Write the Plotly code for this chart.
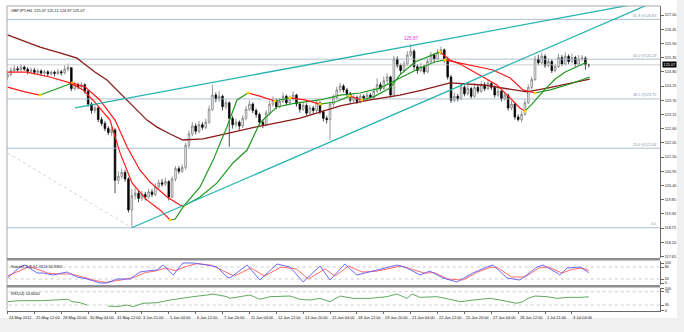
import plotly.graph_objects as go

# ---------------- data ----------------
symbol_text = "GBPJPY,H4  125.07 125.11 124.97 125.07"
first_open = 124.60
closes = [124.70, 124.85, 124.92, 124.88, 124.98, 124.90, 124.82, 124.86, 124.78, 124.83,
          124.75, 124.80, 124.72, 124.78, 124.74, 124.80, 124.76, 124.90, 124.96, 124.15,
          124.30, 124.22, 124.30, 124.05, 123.55, 123.30, 123.40, 122.95, 122.80, 122.60,
          122.45, 122.55, 120.60, 120.75, 120.90, 120.65, 119.45, 120.00, 120.10, 119.90,
          120.05, 119.95, 120.15, 120.05, 120.35, 120.50, 120.45, 120.55, 119.95, 120.65,
          121.05, 120.95, 121.10, 121.95, 122.40, 122.70, 122.50, 122.75, 122.65, 122.85,
          123.35, 123.90, 123.75, 123.85, 123.45, 123.60, 123.00, 122.75, 122.85, 122.70,
          123.00, 123.35, 123.55, 123.30, 123.15, 122.85, 122.75, 123.20, 123.55, 123.70,
          123.45, 123.65, 123.85, 123.60, 123.75, 123.90, 123.55, 123.35, 123.50, 123.20,
          123.40, 123.30, 123.60, 123.25, 123.00, 122.95, 123.55, 123.80, 124.10, 124.25,
          124.10, 123.95, 123.70, 123.80, 123.65, 123.85, 123.75, 123.90, 123.80, 124.05,
          124.30, 124.15, 124.45, 124.60, 123.90, 125.30, 125.05, 124.85, 125.10, 125.45,
          125.60, 125.00, 124.85, 125.00, 124.80, 125.20, 125.45, 125.30, 125.55, 125.65,
          125.30, 124.60, 123.70, 123.85, 123.75, 124.20, 123.95, 124.15, 123.85, 124.20,
          124.05, 124.30, 124.15, 124.35, 124.20, 123.90, 124.05, 123.75, 123.90, 123.40,
          123.55, 123.05, 122.95, 123.15, 123.60, 124.20, 124.50, 125.30, 125.15, 125.40,
          125.05, 125.20, 124.85, 125.00, 125.35, 125.10, 125.40, 125.20, 125.35, 125.10,
          125.30, 125.33, 125.07, 125.07]
highs = [124.85, 124.98, 125.05, 125.02, 125.10, 125.05, 124.98, 124.97, 124.95, 124.92,
         124.90, 124.88, 124.86, 124.86, 124.85, 124.92, 124.88, 125.05, 125.12, 124.98,
         124.42, 124.38, 124.40, 124.35, 124.10, 123.62, 123.52, 123.45, 123.05, 122.90,
         122.70, 122.68, 122.62, 120.95, 121.05, 121.00, 120.72, 120.25, 120.35, 120.20,
         120.18, 120.15, 120.28, 120.25, 120.48, 120.62, 120.65, 120.70, 120.60, 120.75,
         121.15, 121.15, 121.22, 122.05, 122.52, 122.85, 122.80, 122.90, 122.85, 122.98,
         123.50, 124.30, 124.00, 124.05, 123.92, 123.72, 123.65, 123.10, 122.98, 122.92,
         123.12, 123.48, 123.70, 123.62, 123.38, 123.22, 122.95, 123.32, 123.68, 123.85,
         123.78, 123.80, 124.00, 123.92, 123.88, 124.05, 123.95, 123.62, 123.62, 123.58,
         123.52, 123.48, 123.72, 123.65, 123.32, 123.10, 123.65, 123.92, 124.22, 124.38,
         124.32, 124.18, 124.02, 123.92, 123.88, 123.95, 123.92, 124.02, 123.98, 124.18,
         124.55, 124.40, 124.62, 124.75, 124.65, 125.42, 125.40, 125.12, 125.22, 125.60,
         125.87, 125.68, 125.10, 125.15, 125.08, 125.32, 125.58, 125.52, 125.68, 125.78,
         125.70, 125.38, 124.68, 124.00, 123.95, 124.35, 124.28, 124.30, 124.22, 124.35,
         124.30, 124.45, 124.40, 124.50, 124.42, 124.28, 124.18, 124.10, 124.02, 123.95,
         123.68, 123.60, 123.15, 123.28, 123.72, 124.32, 124.62, 125.42, 125.45, 125.55,
         125.48, 125.32, 125.28, 125.12, 125.50, 125.45, 125.55, 125.48, 125.50, 125.42,
         125.45, 125.45, 125.40, 125.11]
lows = [124.50, 124.62, 124.78, 124.80, 124.82, 124.84, 124.70, 124.74, 124.70, 124.68,
        124.66, 124.62, 124.60, 124.65, 124.62, 124.68, 124.66, 124.70, 124.82, 124.05,
        124.08, 124.12, 124.15, 123.95, 123.45, 123.18, 123.20, 122.85, 122.70, 122.50,
        122.35, 122.30, 120.10, 120.45, 120.65, 120.55, 119.35, 118.76, 119.85, 119.75,
        119.80, 119.82, 119.88, 119.95, 119.98, 120.25, 120.35, 120.38, 119.82, 119.90,
        120.55, 120.85, 120.88, 121.00, 121.85, 122.30, 122.38, 122.42, 122.55, 122.58,
        122.78, 123.28, 123.62, 123.65, 123.30, 123.35, 121.90, 122.60, 122.65, 122.55,
        122.62, 122.92, 123.28, 123.20, 123.02, 122.72, 122.62, 122.68, 123.12, 123.45,
        123.35, 123.38, 123.58, 123.50, 123.52, 123.68, 123.45, 123.22, 123.28, 123.10,
        123.12, 123.18, 123.22, 123.15, 122.88, 122.80, 122.15, 123.45, 123.72, 124.00,
        124.00, 123.85, 123.60, 123.62, 123.55, 123.58, 123.65, 123.68, 123.70, 123.72,
        123.98, 124.05, 124.10, 124.35, 123.80, 123.82, 124.95, 124.72, 124.78, 125.02,
        125.38, 124.88, 124.72, 124.78, 124.70, 124.75, 125.12, 125.18, 125.25, 125.45,
        125.15, 124.50, 123.60, 123.62, 123.65, 123.70, 123.85, 123.88, 123.75, 123.80,
        123.95, 123.98, 124.05, 124.08, 124.10, 123.80, 123.82, 123.65, 123.68, 123.30,
        123.32, 122.95, 122.88, 122.85, 123.10, 123.55, 124.12, 124.45, 125.05, 125.08,
        124.95, 124.98, 124.75, 124.78, 124.95, 125.02, 125.05, 125.10, 125.12, 125.00,
        125.05, 125.20, 124.88, 124.97]

# moving averages (bar index, price)
ma_fast_i = [0, 5.8, 12.6, 18.6, 22.5, 25.4, 30.5, 33.5, 37.1, 41.5, 45.4, 48.4, 49.9, 52.2,
             57.3, 61.2, 65.3, 68.3, 71.6, 75.1, 79.6, 84.1, 88.5, 93.0, 97.5, 101.9, 105.5,
             109.4, 113.8, 116.8, 121.3, 125.1, 128.7, 131.7, 134.7, 140.6, 145.7, 148.7,
             152.5, 154.0, 156.1, 160.0, 163.0, 166.0, 172.5]
ma_fast_p = [124.79, 124.79, 124.60, 124.37, 124.10, 123.71, 122.93, 121.66, 120.49, 119.83,
             119.45, 119.06, 119.10, 119.56, 120.34, 121.38, 122.66, 123.71, 123.98, 123.86,
             123.67, 123.79, 123.71, 123.55, 123.63, 123.86, 123.71, 123.86, 124.17, 124.68,
             125.18, 125.37, 125.57, 125.26, 125.10, 124.68, 124.29, 123.90, 123.40, 123.28,
             123.55, 124.13, 124.52, 124.79, 125.18]
ma_mid_i = [0, 5.2, 9.7, 14.1, 17.7, 19.2, 23.1, 27.5, 32.0, 35.6, 39.4, 42.4, 47.5, 51.3,
            52.5, 57.3, 62.3, 67.1, 71.3, 75.1, 80.2, 85.6, 93.0, 99.0, 104.9, 110.9, 116.8,
            122.8, 127.2, 130.2, 134.7, 140.6, 144.5, 149.6, 153.4, 157.0, 161.5, 167.4, 173.3]
ma_mid_p = [124.21, 124.02, 123.90, 124.10, 124.29, 124.37, 124.21, 123.71, 122.93, 121.89,
            121.00, 120.53, 119.95, 119.64, 119.60, 119.95, 120.49, 121.27, 121.77, 122.82,
            123.44, 123.59, 123.71, 123.90, 123.98, 124.17, 124.56, 124.95, 125.18, 125.26,
            125.14, 124.99, 124.87, 124.56, 124.10, 123.98, 124.10, 124.33, 124.60]
ma_slow_i = [0, 9.7, 15.6, 20.7, 22.5, 26.0, 29.6, 35.6, 41.5, 44.5, 48.4, 52.2, 58.2, 63.2,
             67.1, 73.7, 80.2, 87.1, 93.0, 99.0, 107.9, 116.8, 123.7, 131.7, 141.5, 151.6,
             154.6, 160.6, 167.4, 173.3]
ma_slow_p = [126.23, 125.76, 125.53, 125.33, 125.14, 124.79, 124.48, 123.71, 122.93, 122.66,
             122.39, 122.16, 122.20, 122.35, 122.47, 122.66, 122.82, 123.01, 123.24, 123.48,
             123.71, 123.90, 124.10, 124.37, 124.29, 124.10, 124.02, 124.17, 124.37, 124.52]

# trend lines (bar index, price)
trend_upper_i = [20.1, 200]
trend_upper_p = [123.40, 127.74]
trend_lower_i = [37, 200]
trend_lower_p = [118.76, 127.93]
fib_diag_i = [0, 37]
fib_diag_p = [121.66, 118.76]

# fibonacci levels
fib_names = ["0.0", "23.6 @121.84", "38.2 @123.75", "50.0 @125.29", "61.8 @126.83"]
fib_prices = [118.76, 121.84, 123.75, 125.29, 126.83]
bid_price = 125.07
swing_high_i = 120
swing_high_p = 125.87

# stochastic (bar index, value)
stoch_k_i = [0, 3.7, 5.2, 8.8, 10.6, 13.5, 17.7, 20.7, 23.7, 27.5, 29.6, 32.6, 36.5, 39.4, 41.5,
             44.5, 46.3, 49.3, 52.2, 55.2, 59.4, 62.4, 65.3, 66.2, 71.3, 75.1, 80.2, 84.1, 88.0,
             93.0, 96.0, 100.4, 104.0, 107.9, 111.8, 116.0, 118.9, 122.8, 125.7, 129.6, 133.8,
             138.5, 142.7, 144.5, 148.7, 152.5, 157.6, 159.4, 163.6, 164.4, 166.5, 170.4, 173]
stoch_k_v = [25, 80, 90, 50, 50, 40, 55, 30, 20, 0, 0, 20, 20, 55, 60, 65, 90, 40, 100, 100,
             90, 80, 30, 25, 90, 15, 95, 80, 5, 85, 15, 95, 40, 55, 70, 90, 75, 40, 60, 25, 5,
             50, 80, 90, 25, 15, 80, 90, 50, 40, 75, 80, 51.74]
stoch_d_i = [0, 3, 6.5, 9.5, 12, 15, 19, 22, 25.5, 29, 31.5, 34.5, 38, 41, 44, 47, 50, 53.5,
             56.5, 61, 64, 67.5, 72.5, 76.5, 81.5, 86, 89.5, 94.5, 97.5, 101.5, 105.5, 109.5,
             113, 117, 120.5, 124, 127, 131, 135.5, 140, 144, 146, 150, 154, 158.5, 161, 165,
             168, 171, 173]
stoch_d_v = [35, 55, 82, 65, 50, 45, 45, 32, 15, 3, 8, 17, 30, 52, 60, 75, 62, 85, 97, 88, 62,
             35, 75, 35, 80, 70, 20, 70, 35, 85, 55, 58, 70, 85, 68, 50, 52, 20, 15, 55, 80,
             75, 30, 30, 78, 80, 50, 68, 75, 62.94]
stoch_text = "Stoch(5,3,3) 51.7413 62.9355"

# RSI (bar index, value); None where it leaves the window
rsi_i = [0, 3.7, 9.7, 16.5, 18.0, 19.2, 21.6, 23.7, 26.8, 29.9, 32.6, 35.6, 37.4, 40.3, 44.5,
         48.4, 51.3, 55.2, 59.4, 61.2, 65.3, 66.2, 69.2, 72.2, 75.1, 78.1, 84.1, 87.1, 90.0,
         93.0, 96.0, 99.0, 102.8, 107.9, 112.9, 115.9, 118.9, 120.4, 122.8, 127.8, 131.7,
         134.7, 138.5, 143.6, 146.6, 149.6, 151.6, 153.4, 154.9, 157.0, 160.6, 163.6, 166.5,
         170.4, 173]
rsi_v = [40, 43, 43, 45, 47, 40, 37, 30, None, 27, 25, 30, 25, 35, 37, 45, 50, 55, 60, 63, 55,
         50, 55, 60, 47, 55, 57, 47, 45, 50, 40, 57, 50, 50, 55, 63, 50, 63, 53, 55, 47, 40,
         45, 50, 45, 40, 35, 40, 50, 57, 55, 50, 53, 53, 54.60]
rsi_text = "RSI(14) 54.6040"

time_labels = ["24 May 2012", "25 May 12:00", "28 May 20:00", "30 May 04:00", "31 May 12:00",
               "3 Jun 21:00", "5 Jun 04:00", "6 Jun 12:00", "7 Jun 20:00", "11 Jun 04:00",
               "12 Jun 12:00", "13 Jun 20:00", "15 Jun 04:00", "18 Jun 12:00", "19 Jun 20:00",
               "21 Jun 04:00", "22 Jun 12:00", "25 Jun 20:00", "27 Jun 04:00", "28 Jun 12:00",
               "1 Jul 21:00", "3 Jul 04:00"]
bars_per_label = 8
price_ticks = [round(127.00 - 0.55 * k, 2) for k in range(18)]

# ---------------- layout helpers ----------------
W, H = 684, 332
ML, MR, MT, MB = 7, 24, 6, 21
PW, PH = W - ML - MR, H - MT - MB


def fx(xpx):
    return (xpx - ML) / PW


def fy(ypx):
    return (H - MB - ypx) / PH


FONT = "Liberation Sans"
RED, GREEN, YELLOW = "#FF1A1A", "#1E9A1E", "#FFD700"
TEAL = "#27B4B0"
FIBC = "#A9B7C8"

fig = go.Figure()

# candles
opens = [first_open] + closes[:-1]
fig.add_trace(go.Candlestick(
    x=list(range(len(closes))), open=opens, high=highs, low=lows, close=closes,
    increasing=dict(line=dict(color="#6E6E6E", width=0.7), fillcolor="#FFFFFF"),
    decreasing=dict(line=dict(color="#000000", width=0.7), fillcolor="#000000"),
    whiskerwidth=0, xaxis="x", yaxis="y", hoverinfo="skip"))

# fib and bid lines
for p in fib_prices:
    fig.add_trace(go.Scatter(x=[-5, 200], y=[p, p], mode="lines",
                             line=dict(color=FIBC, width=0.9), yaxis="y"))
fig.add_trace(go.Scatter(x=[-5, 200], y=[bid_price, bid_price], mode="lines",
                         line=dict(color="#C4C4C4", width=0.8), yaxis="y"))
fig.add_trace(go.Scatter(x=fib_diag_i, y=fib_diag_p, mode="lines",
                         line=dict(color="#C8C8C8", width=0.8, dash="dot"), yaxis="y"))

# slow MA
fig.add_trace(go.Scatter(x=ma_slow_i, y=ma_slow_p, mode="lines",
                         line=dict(color="#8B1A1A", width=1.3), yaxis="y"))


def add_colored(xs, ys):
    segs = []
    for k in range(len(xs) - 1):
        col = GREEN if ys[k + 1] > ys[k] else RED
        if segs and segs[-1][0] == col:
            segs[-1][1].append(xs[k + 1])
            segs[-1][2].append(ys[k + 1])
        else:
            segs.append([col, [xs[k], xs[k + 1]], [ys[k], ys[k + 1]]])
    for col, sx, sy in segs:
        fig.add_trace(go.Scatter(x=sx, y=sy, mode="lines",
                                 line=dict(color=col, width=1.2), yaxis="y"))
    tx = [s[1][0] for s in segs[1:]]
    ty = [s[2][0] for s in segs[1:]]
    fig.add_trace(go.Scatter(x=tx, y=ty, mode="markers",
                             marker=dict(color=YELLOW, size=3), yaxis="y"))


add_colored(ma_mid_i, ma_mid_p)
add_colored(ma_fast_i, ma_fast_p)

# trend lines
fig.add_trace(go.Scatter(x=trend_upper_i, y=trend_upper_p, mode="lines",
                         line=dict(color=TEAL, width=1.3), yaxis="y"))
fig.add_trace(go.Scatter(x=trend_lower_i, y=trend_lower_p, mode="lines",
                         line=dict(color=TEAL, width=1.3), yaxis="y"))

# stochastic
for lv in (80, 20):
    fig.add_trace(go.Scatter(x=[-5, 200], y=[lv, lv], mode="lines",
                             line=dict(color="#B4B4B4", width=0.7, dash="dot"), yaxis="y2"))
fig.add_trace(go.Scatter(x=stoch_d_i, y=stoch_d_v, mode="lines",
                         line=dict(color="#FF5A5A", width=0.9), yaxis="y2"))
fig.add_trace(go.Scatter(x=stoch_k_i, y=stoch_k_v, mode="lines",
                         line=dict(color="#5A5AFF", width=0.9), yaxis="y2"))

# RSI
for lv in (70, 30):
    fig.add_trace(go.Scatter(x=[-5, 200], y=[lv, lv], mode="lines",
                             line=dict(color="#B4B4B4", width=0.7, dash="dot"), yaxis="y3"))
fig.add_trace(go.Scatter(x=rsi_i, y=rsi_v, mode="lines", connectgaps=False,
                         line=dict(color="#4E9E4E", width=0.9), yaxis="y3"))

# ---------------- axes ----------------
axis_col = "#6A6A6A"
tick_font = dict(family=FONT, size=3.8, color="#222222")
fig.update_layout(
    width=W, height=H, margin=dict(l=ML, r=MR, t=MT, b=MB),
    paper_bgcolor="#F0F0F0", plot_bgcolor="#FFFFFF",
    showlegend=False, hovermode=False,
    xaxis=dict(domain=[0, 1], range=[-0.15, 194.2], anchor="y3",
               showgrid=False, zeroline=False, showline=True, linecolor=axis_col,
               linewidth=1, ticks="outside", ticklen=2, tickcolor=axis_col,
               tickvals=[k * bars_per_label for k in range(len(time_labels))],
               showticklabels=False, rangeslider=dict(visible=False), fixedrange=True),
    yaxis=dict(domain=[fy(258), 1], range=[117.589, 127.349], side="right", anchor="x",
               showgrid=False, zeroline=False, showline=True, linecolor=axis_col,
               linewidth=1, ticks="outside", ticklen=3, tickcolor=axis_col,
               tickvals=price_ticks, ticktext=[f"{v:.2f}" for v in price_ticks],
               tickfont=tick_font),
    yaxis2=dict(domain=[fy(285), fy(261)], range=[-10, 110], side="right", anchor="x",
                showgrid=False, zeroline=False, showline=True, linecolor=axis_col,
                linewidth=1, ticks="outside", ticklen=3, tickcolor=axis_col,
                tickvals=[100, 80, 20, 0], ticktext=["100", "80", "20", "0"],
                tickfont=tick_font),
    yaxis3=dict(domain=[0, fy(288)], range=[12, 81.1], side="right", anchor="x",
                showgrid=False, zeroline=False, showline=True, linecolor=axis_col,
                linewidth=1, ticks="outside", ticklen=3, tickcolor=axis_col,
                tickvals=[80, 70, 30, 13.5], ticktext=["100", "70", "30", "0"],
                tickfont=tick_font),
)

# ---------------- shapes ----------------
shapes = [
    dict(type="rect", xref="paper", yref="paper", x0=fx(0), x1=fx(677), y0=fy(318), y1=fy(0),
         fillcolor="#FFFFFF", line=dict(width=0), layer="below"),
    dict(type="line", xref="paper", yref="paper", x0=fx(7), x1=fx(7), y0=fy(311), y1=fy(6),
         line=dict(color="#A8A8A8", width=1)),
    dict(type="line", xref="paper", yref="paper", x0=fx(7), x1=fx(660), y0=fy(6), y1=fy(6),
         line=dict(color="#A8A8A8", width=1)),
    dict(type="rect", xref="paper", yref="paper", x0=fx(7), x1=fx(660), y0=fy(260.5), y1=fy(258),
         fillcolor="#8E8E8E", line=dict(width=0)),
    dict(type="rect", xref="paper", yref="paper", x0=fx(7), x1=fx(660), y0=fy(287.5), y1=fy(285),
         fillcolor="#8E8E8E", line=dict(width=0)),
]
fig.update_layout(shapes=shapes)

# ---------------- annotations ----------------
ann = []
small = dict(family=FONT, size=3.9, color="#111111")
for k, lab in enumerate(time_labels):
    ann.append(dict(x=k * bars_per_label, y=fy(312.5), xref="x", yref="paper", text=lab,
                    showarrow=False, xanchor="left", yanchor="top", font=small, xshift=-0.5))
for name, p in zip(fib_names, fib_prices):
    ann.append(dict(x=fx(658), y=p, xref="paper", yref="y", text=name, showarrow=False,
                    xanchor="right", yanchor="bottom", yshift=-0.5,
                    font=dict(family=FONT, size=3.7, color="#8596AC")))
ann.append(dict(x=fx(662), y=bid_price, xref="paper", yref="y", text=f"{bid_price:.2f}",
                showarrow=False, xanchor="left", yanchor="middle", bgcolor="#000000",
                borderpad=0.6, font=dict(family=FONT, size=3.8, color="#FFFFFF")))
ann.append(dict(x=swing_high_i, y=swing_high_p, xref="x", yref="y", text=f"{swing_high_p:.2f}",
                showarrow=False, xanchor="center", yanchor="bottom", yshift=1,
                font=dict(family=FONT, size=4.6, color="#E632E6")))
ann.append(dict(x=fx(9), y=fy(6.5), xref="paper", yref="paper", text=symbol_text,
                showarrow=False, xanchor="left", yanchor="top", font=small))
ann.append(dict(x=fx(9), y=fy(262), xref="paper", yref="paper", text=stoch_text,
                showarrow=False, xanchor="left", yanchor="top", font=small))
ann.append(dict(x=fx(9), y=fy(288.5), xref="paper", yref="paper", text=rsi_text,
                showarrow=False, xanchor="left", yanchor="top", font=small))
fig.update_layout(annotations=ann)

fig.write_html("out.html")
